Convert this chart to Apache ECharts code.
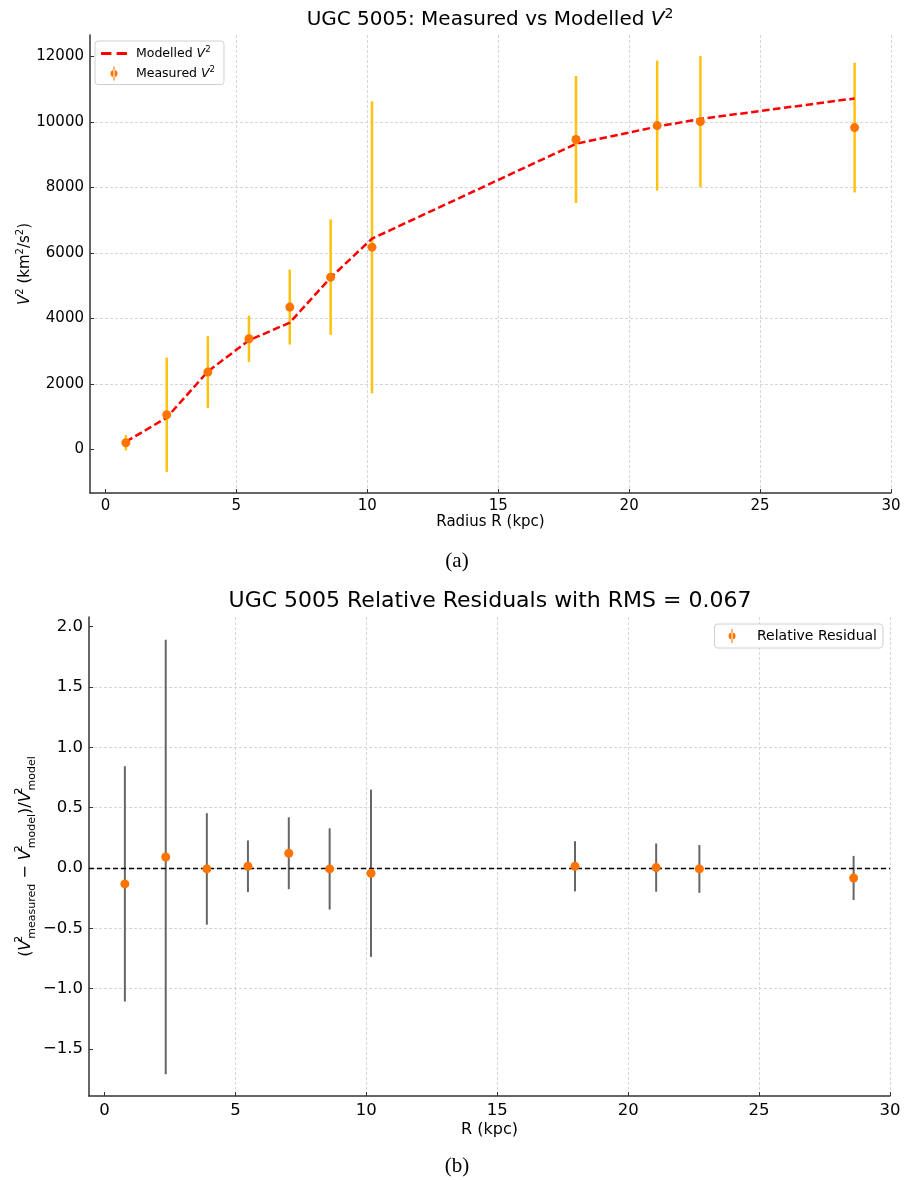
<!DOCTYPE html>
<html><head><meta charset="utf-8">
<script src="https://cdn.jsdelivr.net/npm/echarts@6/dist/echarts.min.js"></script>
<style>html,body{margin:0;padding:0;background:#fff}#c{width:914px;height:1180px}</style>
</head><body><div id="c"></div>
<script>
// ---- data ----
const radius = [0.78, 2.34, 3.91, 5.48, 7.04, 8.60, 10.18, 17.97, 21.07, 22.72, 28.61];
const v2Measured = [205, 1060, 2363, 3380, 4348, 5264, 6180, 9468, 9893, 10015, 9832];
const v2Error = [235, 1745, 1100, 707, 1145, 1765, 4460, 1940, 1985, 2006, 1980];
const v2Model = [236, 972, 2382, 3333, 3875, 5250, 6440, 9337, 9863, 10096, 10722];
const relResidual = [-0.132, 0.091, -0.008, 0.014, 0.122, -0.008, -0.044, 0.014, 0.003, -0.008, -0.083];
const relResidualErr = [0.975, 1.80, 0.462, 0.214, 0.298, 0.337, 0.693, 0.208, 0.200, 0.198, 0.183];
const xTicks = [0, 5, 10, 15, 20, 25, 30];
const v2Ticks = [0, 2000, 4000, 6000, 8000, 10000, 12000];
const residTicks = [-1.5, -1.0, -0.5, 0.0, 0.5, 1.0, 1.5, 2.0];

const FONT = 'DejaVu Sans';
const ORANGE = '#ff7400';
const AXIS = '#333333';
const GRIDC = '#cccccc';
const ERRICON = 'path://M9.2,0 L10.8,0 L10.8,20 L9.2,20 Z M5,10 A5,5 0 1,0 15,10 A5,5 0 1,0 5,10 Z';
const DASHICON = 'path://M0,0 L10,0 L10,3 L0,3 Z M15,0 L25,0 L25,3 L15,3 Z';

function errRender(color, width) {
  return function (params, api) {
    const x = api.value(0);
    const p1 = api.coord([x, api.value(1)]);
    const p2 = api.coord([x, api.value(2)]);
    return { type: 'line', shape: { x1: p1[0], y1: p1[1], x2: p2[0], y2: p2[1] },
      style: { stroke: color, lineWidth: width } };
  };
}

function makeX(gi, fs, name, nameFs, nameGap) {
  return {
    type: 'value', gridIndex: gi, min: -0.59, max: 30, splitNumber: 6,
    name: name, nameLocation: 'middle', nameGap: nameGap,
    nameTextStyle: { fontFamily: FONT, fontSize: nameFs, color: '#000' },
    axisLine: { show: true, onZero: false, lineStyle: { color: AXIS, width: 1.5 } },
    axisTick: { show: true, inside: true, length: 4, customValues: xTicks, lineStyle: { color: AXIS, width: 1 } },
    axisLabel: { customValues: xTicks, fontFamily: FONT, fontSize: fs, color: '#000', margin: 6,
      formatter: v => String(v) },
    splitLine: { show: true, showMinLine: false, lineStyle: { color: GRIDC, type: [3, 2], width: 0.8 } }
  };
}

const option = {
  backgroundColor: '#fff',
  animation: false,
  grid: [
    { left: 90, top: 35, width: 801, height: 458 },
    { left: 89, top: 617, width: 801, height: 479 }
  ],
  xAxis: [
    makeX(0, 15, 'Radius R (kpc)', 15, 22),
    makeX(1, 16.5, 'R (kpc)', 16, 26)
  ],
  yAxis: [
    {
      type: 'value', gridIndex: 0, min: -1330, max: 12660, splitNumber: 7,
      name: '{i|V}{s|2} (km{s|2}/s{s|2})', nameLocation: 'middle', nameGap: 55, nameMoveOverlap: false,
      nameTextStyle: { fontFamily: FONT, fontSize: 15, color: '#000', lineHeight: 20,
        rich: { i: { fontFamily: FONT, fontStyle: 'italic', fontSize: 15, lineHeight: 20 },
                s: { fontFamily: FONT, fontSize: 10, verticalAlign: 'top', lineHeight: 12 } } },
      axisLine: { show: true, onZero: false, lineStyle: { color: AXIS, width: 1.5 } },
      axisTick: { show: true, inside: true, length: 4, customValues: v2Ticks, lineStyle: { color: AXIS } },
      axisLabel: { customValues: v2Ticks, fontFamily: FONT, fontSize: 15, color: '#000', margin: 6,
        formatter: v => String(v) },
      splitLine: { show: true, showMinLine: false, showMaxLine: false, lineStyle: { color: GRIDC, type: [3, 2], width: 0.8 } }
    },
    {
      type: 'value', gridIndex: 1, min: -1.89, max: 2.08, splitNumber: 8,
      name: '({i|V}{s|2}{b|measured} − {i|V}{s|2}{b|model})/{i|V}{s|2}{b|model}',
      nameLocation: 'middle', nameGap: 51, nameMoveOverlap: false,
      nameTextStyle: { fontFamily: FONT, fontSize: 16, color: '#000', lineHeight: 24,
        rich: {
          i: { fontFamily: FONT, fontStyle: 'italic', fontSize: 16, lineHeight: 24 },
          s: { fontFamily: FONT, fontSize: 11, verticalAlign: 'top', lineHeight: 13, width: 1 },
          b: { fontFamily: FONT, fontSize: 11, verticalAlign: 'bottom', lineHeight: 13 }
        } },
      axisLine: { show: true, onZero: false, lineStyle: { color: AXIS, width: 1.5 } },
      axisTick: { show: true, inside: true, length: 4, customValues: residTicks, lineStyle: { color: AXIS } },
      axisLabel: { customValues: residTicks, fontFamily: FONT, fontSize: 16.5, color: '#000', margin: 6,
        formatter: v => (v < 0 ? '\u2212' : '') + Math.abs(v).toFixed(1) },
      splitLine: { show: true, showMinLine: false, showMaxLine: false, lineStyle: { color: GRIDC, type: [3, 2], width: 0.8 } }
    }
  ],
  legend: [
    {
      orient: 'vertical', left: 95, top: 41, itemWidth: 26, itemHeight: 14, itemGap: 5,
      padding: [4, 9, 4, 6], backgroundColor: '#fff', borderColor: '#d0d0d0', borderWidth: 1, borderRadius: 3,
      data: [{ name: 'Modelled V2', icon: DASHICON, itemStyle: { color: '#ff0000' } },
             { name: 'Measured V2', icon: ERRICON, itemStyle: { color: ORANGE, opacity: 1 } }],
      formatter: n => ' ' + n.replace(' V2', '') + ' {i|V}{s|2}',
      textStyle: { fontFamily: FONT, fontSize: 12.5, color: '#000',
        rich: { i: { fontFamily: FONT, fontStyle: 'italic', fontSize: 12.5, lineHeight: 17 },
                s: { fontFamily: FONT, fontSize: 8.5, verticalAlign: 'top', lineHeight: 10 } } }
    },
    {
      orient: 'vertical', right: 31, top: 624, itemWidth: 22, itemHeight: 14,
      padding: [5, 6, 5, 14], backgroundColor: '#fff', borderColor: '#d0d0d0', borderWidth: 1, borderRadius: 3,
      data: [{ name: 'Relative Residual', icon: ERRICON, itemStyle: { color: ORANGE, opacity: 1 } }],
      formatter: n => '  ' + n,
      textStyle: { fontFamily: FONT, fontSize: 14, color: '#000' }
    }
  ],
  graphic: [
    { type: 'text', x: 490, y: 20, style: {
        text: 'UGC 5005: Measured vs Modelled {i|V}{s|2}', align: 'center', verticalAlign: 'middle',
        font: '20px "DejaVu Sans"', fill: '#000', lineHeight: 26,
        rich: { i: { fontFamily: FONT, fontStyle: 'italic', fontSize: 20, lineHeight: 26 },
                s: { fontFamily: FONT, fontSize: 14, verticalAlign: 'top', lineHeight: 15 } } } },
    { type: 'text', x: 490, y: 601, style: {
        text: 'UGC 5005 Relative Residuals with RMS = 0.067', align: 'center', verticalAlign: 'middle',
        font: '22px "DejaVu Sans"', fill: '#000' } },
    { type: 'text', x: 457, y: 561, style: { text: '(a)', align: 'center', verticalAlign: 'middle',
        font: '21px "Liberation Serif"', fill: '#000' } },
    { type: 'text', x: 457, y: 1166, style: { text: '(b)', align: 'center', verticalAlign: 'middle',
        font: '21px "Liberation Serif"', fill: '#000' } }
  ],
  series: [
    {
      type: 'custom', name: 'v2err', xAxisIndex: 0, yAxisIndex: 0, z: 2,
      renderItem: errRender('#ffc20e', 2.5),
      encode: { x: 0, y: [1, 2] },
      data: radius.map((r, i) => [r, v2Measured[i] - v2Error[i], v2Measured[i] + v2Error[i]]),
      silent: true
    },
    {
      type: 'line', name: 'Modelled V2', xAxisIndex: 0, yAxisIndex: 0, z: 3,
      data: radius.map((r, i) => [r, v2Model[i]]),
      symbol: 'none', color: '#ff0000',
      lineStyle: { color: '#ff0000', width: 2.5, type: [7.5, 3.5] }
    },
    {
      type: 'scatter', name: 'Measured V2', xAxisIndex: 0, yAxisIndex: 0, z: 4,
      data: radius.map((r, i) => [r, v2Measured[i]]),
      symbol: 'circle', symbolSize: 9, itemStyle: { color: ORANGE, opacity: 1 }
    },
    {
      type: 'custom', name: 'residerr', xAxisIndex: 1, yAxisIndex: 1, z: 2,
      renderItem: errRender('#666666', 2),
      encode: { x: 0, y: [1, 2] },
      data: radius.map((r, i) => [r, relResidual[i] - relResidualErr[i], relResidual[i] + relResidualErr[i]]),
      silent: true
    },
    {
      type: 'scatter', name: 'Relative Residual', xAxisIndex: 1, yAxisIndex: 1, z: 4,
      data: radius.map((r, i) => [r, relResidual[i]]),
      symbol: 'circle', symbolSize: 9, itemStyle: { color: ORANGE, opacity: 1 },
      markLine: {
        silent: true, symbol: ['none', 'none'], label: { show: false }, z: 3,
        lineStyle: { color: '#000', width: 1.3, type: [5, 3] },
        data: [{ yAxis: 0 }]
      }
    }
  ]
};

const chart = echarts.init(document.getElementById('c'), null, { renderer: 'canvas' });
chart.setOption(option);
</script>
</body></html>
